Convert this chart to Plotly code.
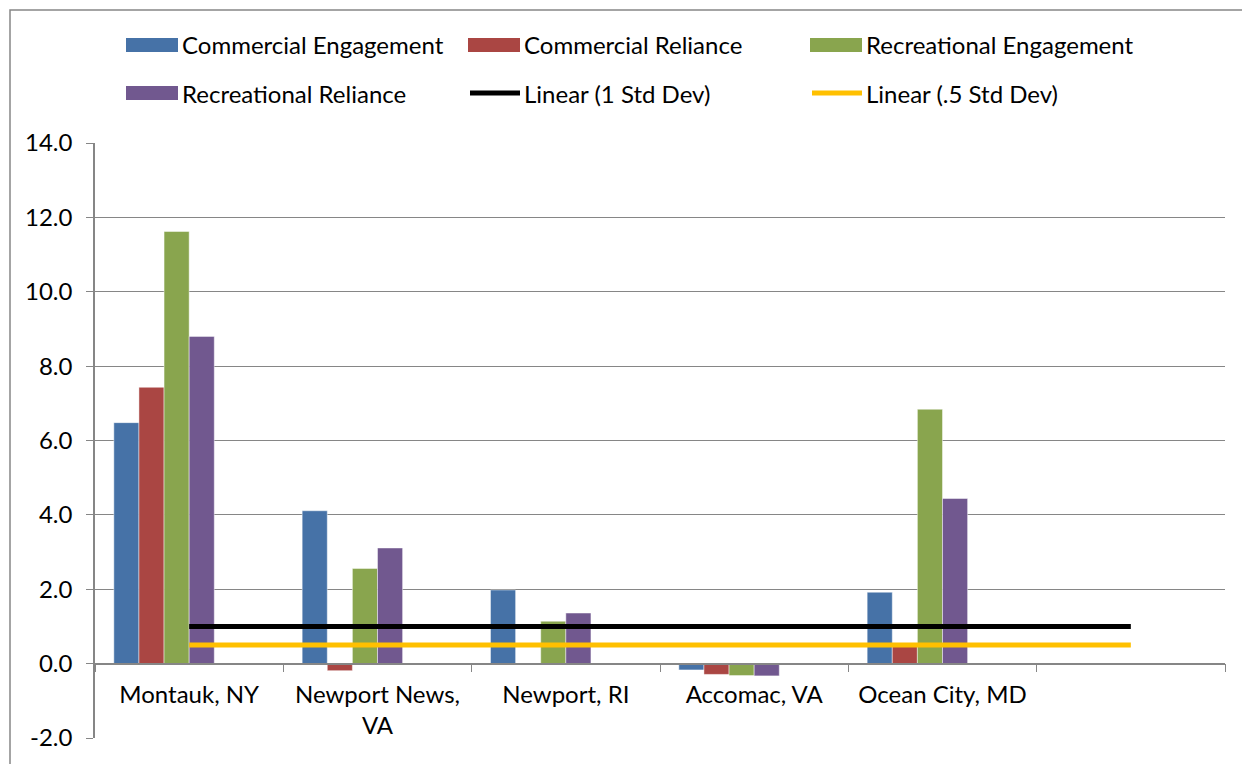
import plotly.graph_objects as go

# categories (last one is the empty slot Excel left for the trendlines)
places = ["Montauk, NY", "Newport News,<br>VA", "Newport, RI", "Accomac, VA", "Ocean City, MD", " "]

comm_engagement = [6.48, 4.11, 1.98, -0.17, 1.92]
comm_reliance = [7.43, -0.19, 0.0, -0.29, 0.47]
rec_engagement = [11.62, 2.56, 1.14, -0.32, 6.84]
rec_reliance = [8.80, 3.11, 1.36, -0.33, 4.44]

std_dev_1 = [1.0, 1.0, 1.0, 1.0, 1.0, 1.0]
std_dev_half = [0.5, 0.5, 0.5, 0.5, 0.5, 0.5]

y_ticks = [-2, 0, 2, 4, 6, 8, 10, 12, 14]
y_tick_text = ["-2.0", "0.0", "2.0", "4.0", "6.0", "8.0", "10.0", "12.0", "14.0"]

bar_names = ["Commercial Engagement", "Commercial Reliance", "Recreational Engagement", "Recreational Reliance"]
bar_colors = ["#4672A7", "#AA4643", "#89A54E", "#71588F"]
line_names = ["Linear (1 Std Dev)", "Linear (.5 Std Dev)"]
line_colors = ["#000000", "#FFC000"]

FONT = "Lato"
FS = 24
# the page body has an 8px margin, so the figure starts at (8, 8)
OFF = 8
W, H = 1250 - OFF, 764 - OFF
L, R, T, B = 95, 1225, 143, 738   # plot area in page pixels


def px_x(x):
    return (x - L) / (R - L)


def px_y(y):
    return (B - y) / (B - T)


fig = go.Figure()

slot = 0.8 / 6
for i, (name, vals, col) in enumerate(zip(bar_names, [comm_engagement, comm_reliance, rec_engagement, rec_reliance], bar_colors)):
    fig.add_trace(go.Bar(
        x=places[:len(vals)], y=vals, name=name,
        marker=dict(color=col, line=dict(color="rgba(255,255,255,0.45)", width=1)),
        width=slot, offset=-0.4 + i * slot,
        showlegend=False,
    ))

for name, vals, col in zip(line_names, [std_dev_1, std_dev_half], line_colors):
    fig.add_trace(go.Scatter(
        x=places, y=vals, name=name, mode="lines",
        line=dict(color=col, width=5), showlegend=False,
    ))

# hand made legend to get Excel's wide swatches
shapes = []
annotations = []
legend_pos = [(126, 45), (468, 45), (810, 45), (126, 93), (468, 93), (810, 93)]
entries = list(zip(bar_names, bar_colors)) + list(zip(line_names, line_colors))
for k, ((name, col), (lx, ly)) in enumerate(zip(entries, legend_pos)):
    if k < 4:
        shapes.append(dict(type="rect", xref="paper", yref="paper",
                           x0=px_x(lx), x1=px_x(lx + 52), y0=px_y(ly - 7), y1=px_y(ly + 7),
                           fillcolor=col, line=dict(width=0)))
    else:
        shapes.append(dict(type="line", xref="paper", yref="paper",
                           x0=px_x(lx + 2), x1=px_x(lx + 52), y0=px_y(ly), y1=px_y(ly),
                           line=dict(color=col, width=5)))
    annotations.append(dict(xref="paper", yref="paper", x=px_x(lx + 54), y=px_y(ly),
                            xanchor="left", yanchor="middle", showarrow=False,
                            text=name, font=dict(family=FONT, size=FS, color="#000000")))

# chart border
shapes.append(dict(type="rect", xref="paper", yref="paper",
                   x0=px_x(10), x1=px_x(1246), y0=px_y(10), y1=px_y(790),
                   line=dict(color="#868686", width=1.5), fillcolor="rgba(0,0,0,0)"))

fig.update_layout(
    width=W, height=H,
    margin=dict(l=L - OFF, r=W - (R - OFF), t=T - OFF, b=H - (B - OFF)),
    paper_bgcolor="white", plot_bgcolor="white",
    font=dict(family=FONT, size=FS, color="#000000"),
    showlegend=False,
    shapes=shapes, annotations=annotations,
    xaxis=dict(
        type="category", categoryorder="array", categoryarray=places,
        range=[-0.5, 5.5],
        anchor="free", position=2 / 16,
        showline=True, linecolor="#868686", linewidth=1.5,
        ticks="outside", tickson="boundaries", ticklen=8, tickcolor="#868686",
        showgrid=False, zeroline=False, ticklabelstandoff=10,
        tickfont=dict(family=FONT, size=FS),
    ),
    yaxis=dict(
        range=[-2, 14], tickvals=y_ticks, ticktext=y_tick_text,
        showline=True, linecolor="#868686", linewidth=1.5,
        ticks="outside", ticklen=7, tickcolor="#868686",
        showgrid=True, gridcolor="#868686", gridwidth=1.2,
        zeroline=False, ticklabelstandoff=9,
        tickfont=dict(family=FONT, size=FS),
    ),
)

fig.write_html("out.html")
